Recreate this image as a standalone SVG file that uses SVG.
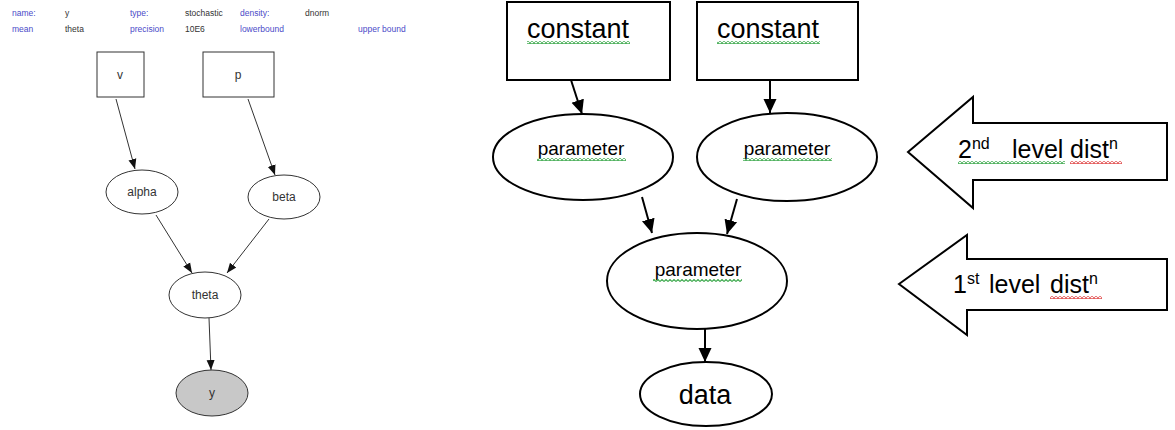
<svg xmlns="http://www.w3.org/2000/svg" width="1175" height="430" viewBox="0 0 1175 430">
<style>
.hl{font-family:"Liberation Sans",Arial,sans-serif;font-size:8.5px;fill:#4a4ac8}
.hv{font-family:"Liberation Sans",Arial,sans-serif;font-size:8.5px;fill:#333}
.sn{fill:#fff;stroke:#333;stroke-width:1}
.st{font-family:"Liberation Sans",Arial,sans-serif;font-size:12px;fill:#333;text-anchor:middle}
.big{fill:#fff;stroke:#000;stroke-width:2}
.bt{font-family:"Liberation Sans",Arial,sans-serif;fill:#000}
.sl{stroke:#333;stroke-width:1;fill:none}
.bl{stroke:#000;stroke-width:2;fill:none}
</style>
<defs>
<marker id="sa" markerUnits="userSpaceOnUse" markerWidth="10" markerHeight="10" viewBox="0 0 10 10" refX="10" refY="5" orient="auto"><path d="M0,1 L10,5 L0,9 Z" fill="#111"/></marker>
<marker id="ba" markerUnits="userSpaceOnUse" markerWidth="14" markerHeight="14" viewBox="0 0 14 14" refX="14" refY="7" orient="auto"><path d="M0,0.5 L14,7 L0,13.5 Z" fill="#000"/></marker>
<pattern id="gw" patternUnits="userSpaceOnUse" width="4" height="3"><path d="M0,2.5 L2,0.5 L4,2.5" fill="none" stroke="#3aa84a" stroke-width="1.1"/></pattern>
<pattern id="rw" patternUnits="userSpaceOnUse" width="4" height="3"><path d="M0,2.5 L2,0.5 L4,2.5" fill="none" stroke="#e04848" stroke-width="1.1"/></pattern>
</defs>

<g id="header">
<text class="hl" x="12" y="16">name:</text>
<text class="hv" x="65" y="16">y</text>
<text class="hl" x="130" y="16">type:</text>
<text class="hv" x="185" y="16">stochastic</text>
<text class="hl" x="240" y="16">density:</text>
<text class="hv" x="305" y="16">dnorm</text>
<text class="hl" x="12" y="32">mean</text>
<text class="hv" x="65" y="32">theta</text>
<text class="hl" x="130" y="32">precision</text>
<text class="hv" x="185" y="32">10E6</text>
<text class="hl" x="240" y="32">lowerbound</text>
<text class="hl" x="358" y="32">upper bound</text>
</g>

<g id="node-v"><rect class="sn" x="97" y="52" width="47" height="45"/><text class="st" x="120" y="79">v</text></g>
<g id="node-p"><rect class="sn" x="203" y="52" width="71" height="45"/><text class="st" x="238" y="79">p</text></g>
<g id="node-alpha"><ellipse class="sn" cx="142" cy="192" rx="36" ry="22"/><text class="st" x="142" y="196">alpha</text></g>
<g id="node-beta"><ellipse class="sn" cx="284" cy="197" rx="36" ry="22"/><text class="st" x="284" y="201">beta</text></g>
<g id="node-theta"><ellipse class="sn" cx="205" cy="295" rx="36" ry="23"/><text class="st" x="205" y="299">theta</text></g>
<g id="node-y"><ellipse class="sn" cx="212" cy="393" rx="36" ry="23" style="fill:#c8c8c8"/><text class="st" x="212" y="397">y</text></g>

<g id="node-constant1"><rect class="big" x="507" y="2" width="163" height="78"/><text class="bt" x="527" y="38" font-size="27">constant</text><rect x="527" y="41" width="103" height="3" fill="url(#gw)"/></g>
<g id="node-constant2"><rect class="big" x="697" y="2" width="161" height="78"/><text class="bt" x="717" y="38" font-size="27">constant</text><rect x="717" y="41" width="103" height="3" fill="url(#gw)"/></g>
<g id="node-param1"><ellipse class="big" cx="583" cy="157" rx="90" ry="43"/><text class="bt" x="581" y="155" font-size="19" text-anchor="middle">parameter</text><rect x="537" y="158" width="89" height="3" fill="url(#gw)"/></g>
<g id="node-param2"><ellipse class="big" cx="787" cy="157" rx="90" ry="44"/><text class="bt" x="787" y="155" font-size="19" text-anchor="middle">parameter</text><rect x="743" y="158" width="89" height="3" fill="url(#gw)"/></g>
<g id="node-param3"><ellipse class="big" cx="697" cy="281" rx="90" ry="48"/><text class="bt" x="698" y="276" font-size="19" text-anchor="middle">parameter</text><rect x="653" y="279" width="89" height="3" fill="url(#gw)"/></g>
<g id="node-data"><ellipse class="big" cx="706" cy="394" rx="66" ry="32"/><text class="bt" x="705" y="404" font-size="27" text-anchor="middle">data</text></g>

<g id="label-2nd">
<polygon class="big" points="908,152 973,97 973,123 1167,123 1167,180 973,180 973,208"/>
<text class="bt" x="958" y="158" font-size="25">2<tspan font-size="16" dy="-9">nd</tspan><tspan x="1012" dy="9">level</tspan><tspan x="1070">dist</tspan><tspan font-size="16" dy="-9">n</tspan></text>
<rect x="958" y="161" width="107" height="3" fill="url(#gw)"/>
<rect x="1070" y="161" width="52" height="3" fill="url(#rw)"/>
</g>
<g id="label-1st">
<polygon class="big" points="899,284 967,235 967,259 1167,259 1167,310 967,310 967,335"/>
<text class="bt" x="953" y="293" font-size="25">1<tspan font-size="16" dy="-9">st</tspan><tspan x="989" dy="9">level</tspan><tspan x="1050">dist</tspan><tspan font-size="16" dy="-9">n</tspan></text>
<rect x="1050" y="296" width="52" height="3" fill="url(#rw)"/>
</g>

<g id="connectors">
<line class="sl" x1="116" y1="99" x2="135" y2="169" marker-end="url(#sa)"/>
<line class="sl" x1="248" y1="99" x2="275" y2="175" marker-end="url(#sa)"/>
<line class="sl" x1="156" y1="215" x2="192" y2="273" marker-end="url(#sa)"/>
<line class="sl" x1="269" y1="219" x2="227" y2="273" marker-end="url(#sa)"/>
<line class="sl" x1="209" y1="318" x2="211" y2="370" marker-end="url(#sa)"/>
<line class="bl" x1="571" y1="80" x2="582" y2="114" marker-end="url(#ba)"/>
<line class="bl" x1="770" y1="80" x2="770" y2="113" marker-end="url(#ba)"/>
<line class="bl" x1="642" y1="197" x2="652" y2="233" marker-end="url(#ba)"/>
<line class="bl" x1="737" y1="199" x2="727" y2="234" marker-end="url(#ba)"/>
<line class="bl" x1="705" y1="329" x2="705" y2="362" marker-end="url(#ba)"/>
</g>
</svg>
